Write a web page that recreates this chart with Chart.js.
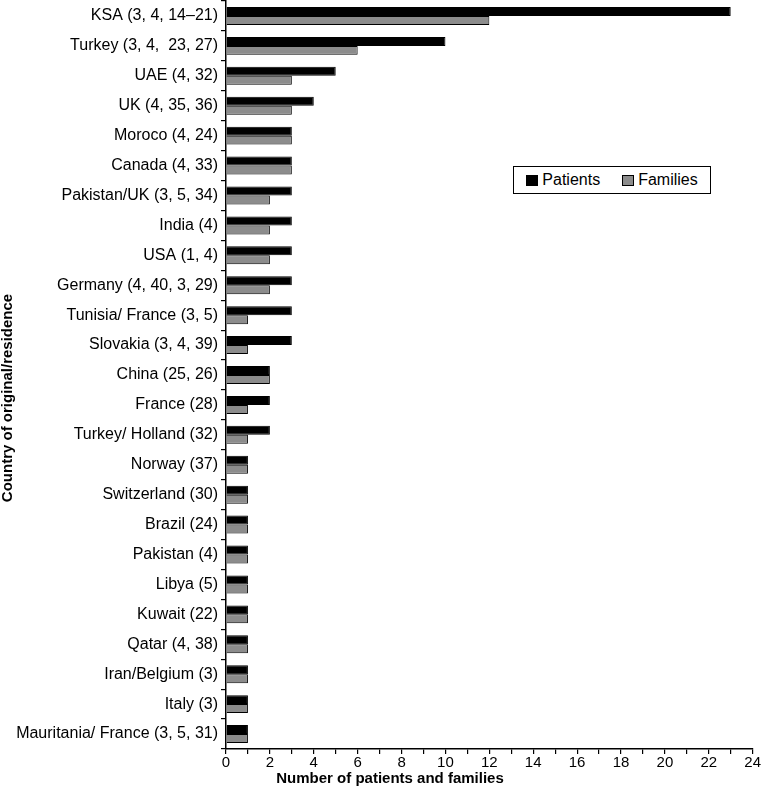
<!DOCTYPE html>
<html>
<head>
<meta charset="utf-8">
<script src="https://cdn.jsdelivr.net/npm/chart.js@4"></script>
<style>
  html, body { margin: 0; padding: 0; background: #fff; }
  #wrap { position: relative; width: 761px; height: 787px; }
  #legend {
    position: absolute; left: 513px; top: 166px; width: 196px; height: 26px;
    border: 1px solid #000; display: flex; align-items: center; justify-content: center; gap: 22px;
    font-family: 'Liberation Sans', Arial, sans-serif; font-size: 16px; color: #000; background: #fff;
  }
  .item { display: flex; align-items: center; }
  .sw { width: 10px; height: 9px; border: 1px solid #000; margin-right: 4px; }
</style>
</head>
<body>
<div id="wrap">
  <canvas id="chart" width="761" height="787"></canvas>
  <div id="legend">
    <div class="item"><div class="sw" style="background:#000;"></div>Patients</div>
    <div class="item"><div class="sw" style="background:#8c8c8c;"></div>Families</div>
  </div>
</div>
<script>
// data
const countries = [
  'KSA (3, 4, 14\u201321)', 'Turkey (3, 4,  23, 27)', 'UAE (4, 32)', 'UK (4, 35, 36)',
  'Moroco (4, 24)', 'Canada (4, 33)', 'Pakistan/UK (3, 5, 34)', 'India (4)', 'USA (1, 4)',
  'Germany (4, 40, 3, 29)', 'Tunisia/ France (3, 5)', 'Slovakia (3, 4, 39)', 'China (25, 26)',
  'France (28)', 'Turkey/ Holland (32)', 'Norway (37)', 'Switzerland (30)', 'Brazil (24)',
  'Pakistan (4)', 'Libya (5)', 'Kuwait (22)', 'Qatar (4, 38)', 'Iran/Belgium (3)', 'Italy (3)',
  'Mauritania/ France (3, 5, 31)'
];
const patients = [23, 10, 5, 4, 3, 3, 3, 3, 3, 3, 3, 3, 2, 2, 2, 1, 1, 1, 1, 1, 1, 1, 1, 1, 1];
const families = [12, 6, 3, 3, 3, 3, 2, 2, 2, 2, 1, 1, 2, 1, 1, 1, 1, 1, 1, 1, 1, 1, 1, 1, 1];
const xTitle = 'Number of patients and families';
const yTitle = 'Country of original/residence';

const FONT = "'Liberation Sans', Arial, sans-serif";

// axis titles placed where the original has them
const axisTitles = {
  id: 'axisTitles',
  afterDraw(chart) {
    const { ctx } = chart;
    ctx.save();
    ctx.fillStyle = '#000';
    ctx.font = 'bold 15px ' + FONT;
    ctx.textAlign = 'center';
    ctx.textBaseline = 'middle';
    ctx.fillText(xTitle, 390, 779);
    ctx.translate(8, 398);
    ctx.rotate(-Math.PI / 2);
    ctx.fillText(yTitle, 0, 0);
    ctx.restore();
  }
};

new Chart(document.getElementById('chart'), {
  type: 'bar',
  data: {
    labels: countries,
    datasets: [
      { label: 'Patients', data: patients, backgroundColor: '#000', borderColor: '#000', borderWidth: 1 },
      { label: 'Families', data: families, backgroundColor: '#8c8c8c', borderColor: '#000', borderWidth: 1 }
    ]
  },
  options: {
    indexAxis: 'y',
    responsive: false,
    animation: false,
    layout: { padding: { top: 1, right: 0, left: 0, bottom: 0 } },
    datasets: { bar: { categoryPercentage: 0.6, barPercentage: 1 } },
    plugins: { legend: { display: false }, tooltip: { enabled: false } },
    scales: {
      x: {
        min: 0, max: 24,
        afterFit: (s) => { s.height = 38; s.paddingTop = 0; s.paddingBottom = 0; },
        border: { display: true, color: '#000', width: 1.5 },
        grid: { drawOnChartArea: false, drawTicks: true, tickLength: 5, color: '#000', lineWidth: 1.2 },
        ticks: {
          stepSize: 1, autoSkip: false, maxRotation: 0, padding: 0,
          color: '#000', font: { family: FONT, size: 15 },
          callback: (v) => (v % 2 === 0 ? v : '')
        }
      },
      y: {
        afterFit: (s) => { s.width = 226; s.paddingTop = 0; s.paddingBottom = 0; },
        border: { display: true, color: '#000', width: 1.5 },
        grid: { offset: true, drawOnChartArea: false, drawTicks: true, tickLength: 5, color: '#000', lineWidth: 1.2 },
        ticks: { autoSkip: false, padding: 3, color: '#000', font: { family: FONT, size: 16 } }
      }
    }
  },
  plugins: [axisTitles]
});
</script>
</body>
</html>
